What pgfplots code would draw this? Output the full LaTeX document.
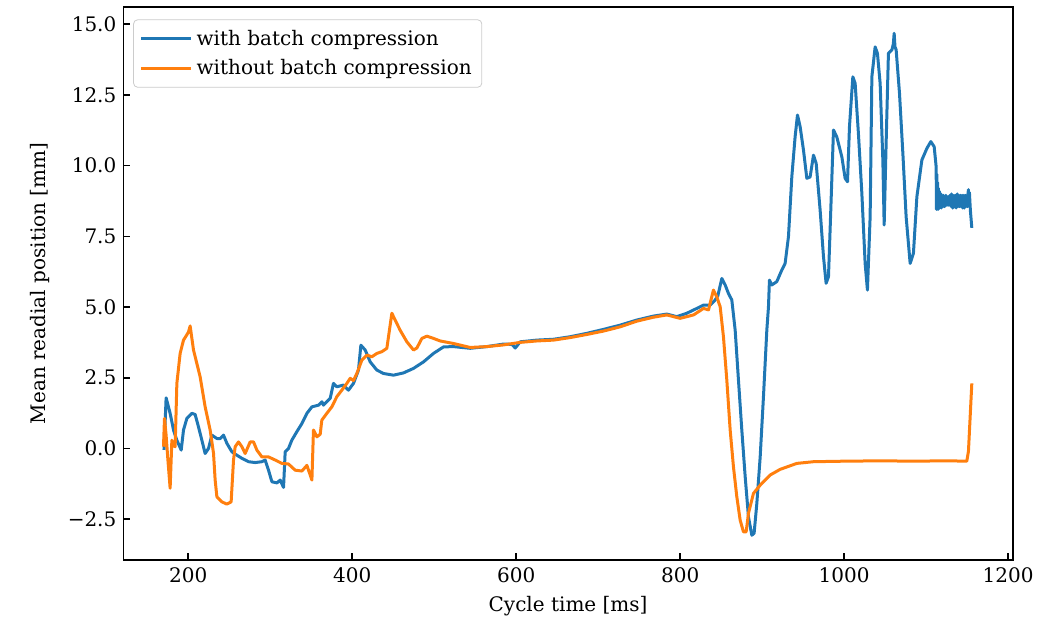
\documentclass[border=0pt]{standalone}
\usepackage{fontspec}
\setmainfont{DejaVu Serif}
\usepackage{pgfplots}
\pgfplotsset{compat=1.18}
\definecolor{mplblue}{HTML}{1F77B4}
\definecolor{mplorange}{HTML}{FF7F0E}
\pgfplotstableread{
x y
170.5 -0.05
172.0 1.00
173.1 1.79
178.0 1.24
182.1 0.65
186.2 0.29
191.5 -0.06
194.3 0.65
198.4 1.06
204.5 1.24
208.5 1.20
212.6 0.76
216.7 0.29
220.7 -0.18
224.8 0.00
228.9 0.47
235.0 0.35
239.1 0.35
243.1 0.47
247.2 0.18
253.3 -0.12
259.4 -0.24
265.5 -0.35
273.6 -0.47
281.7 -0.50
289.9 -0.47
293.9 -0.41
298.0 -0.77
302.1 -1.18
308.2 -1.22
312.2 -1.12
316.3 -1.38
318.3 -0.12
322.4 0.00
326.4 0.29
332.5 0.59
338.7 0.88
344.8 1.24
350.9 1.47
359.0 1.53
363.1 1.65
365.0 1.53
373.2 1.77
377.2 2.30
381.3 2.18
389.4 2.24
395.5 2.06
401.6 2.30
407.7 2.77
410.6 3.65
415.9 3.48
422.0 3.06
430.1 2.77
438.2 2.65
450.4 2.59
462.6 2.67
474.8 2.83
487.0 3.06
499.2 3.36
511.4 3.59
523.6 3.60
543.9 3.54
564.2 3.60
584.6 3.69
595.0 3.68
598.8 3.55
605.0 3.77
625.3 3.83
645.6 3.86
666.0 3.95
686.3 4.07
706.6 4.21
726.9 4.36
747.2 4.54
767.5 4.68
783.7 4.75
795.9 4.66
808.1 4.78
820.3 4.95
828.5 5.07
836.6 5.07
842.7 5.25
846.0 5.40
850.8 6.01
854.9 5.78
858.9 5.48
863.0 5.25
867.1 4.18
871.1 2.42
875.2 0.65
879.3 -1.00
883.3 -2.42
887.4 -3.07
890.2 -3.00
893.5 -1.95
897.6 -0.30
901.6 1.83
905.7 4.18
907.7 5.00
908.9 5.95
911.8 5.78
917.9 5.90
924.0 6.31
928.0 6.54
932.1 7.49
936.2 9.61
940.2 11.02
943.1 11.79
946.3 11.38
950.4 10.55
954.5 9.55
958.5 9.60
962.6 10.37
965.9 10.08
970.7 8.43
974.8 6.78
978.0 5.84
980.9 6.07
983.7 8.43
987.0 11.26
991.0 11.02
997.2 10.31
1001.2 9.55
1004.1 9.43
1006.5 11.38
1010.6 13.14
1013.4 12.91
1017.4 11.14
1021.6 9.02
1025.6 6.54
1028.4 5.60
1031.7 8.19
1033.8 13.14
1037.8 14.20
1040.6 13.97
1043.9 12.91
1047.2 10.20
1048.8 7.90
1051.2 10.79
1054.0 13.97
1058.2 14.09
1060.0 14.30
1061.0 14.68
1062.0 14.20
1063.4 14.10
1067.5 12.56
1071.6 10.44
1075.6 8.19
1080.5 6.54
1084.5 6.90
1088.7 8.90
1094.8 10.20
1100.9 10.61
1105.7 10.85
1109.8 10.67
1112.2 9.96
1112.6 8.45
1113.0 9.70
1113.5 8.50
1114.0 9.40
1114.5 8.45
1115.0 9.20
1115.5 8.55
1116.0 9.10
1116.5 8.50
1117.0 9.00
1117.5 8.55
1118.0 9.00
1118.5 8.50
1119.0 8.95
1119.5 8.55
1120.0 8.90
1120.5 8.55
1121.0 8.95
1121.5 8.60
1122.0 8.90
1122.5 8.55
1123.0 8.90
1123.5 8.60
1124.0 8.95
1124.5 8.60
1125.0 8.85
1125.5 8.60
1126.0 8.90
1126.5 8.65
1127.0 8.90
1127.5 8.60
1128.0 8.85
1128.5 8.65
1129.0 8.95
1129.5 8.60
1130.0 8.90
1130.5 8.55
1131.0 9.00
1131.5 8.60
1132.0 8.95
1132.5 8.50
1133.0 8.90
1133.5 8.60
1134.0 8.95
1134.5 8.55
1135.0 8.90
1135.5 8.60
1136.0 8.95
1136.5 8.50
1137.0 8.90
1137.5 8.55
1138.0 9.00
1138.5 8.55
1139.0 8.90
1139.5 8.60
1140.0 8.95
1140.5 8.55
1141.0 8.90
1141.5 8.60
1142.0 8.95
1142.5 8.55
1143.0 8.90
1143.5 8.60
1144.0 8.95
1144.5 8.50
1145.0 8.90
1145.5 8.55
1146.0 8.95
1146.5 8.50
1147.0 8.90
1147.5 8.60
1148.0 8.95
1148.5 8.55
1149.0 8.90
1149.5 8.60
1150.0 8.85
1150.5 8.55
1151.0 9.00
1151.6 9.15
1152.2 8.60
1152.8 9.05
1153.4 8.70
1154.0 8.40
1155.7 7.80
}\withbatch
\pgfplotstableread{
x y
169.9 0.06
171.1 1.06
173.0 0.50
175.0 -0.30
178.0 -1.41
180.1 0.29
182.0 0.10
184.1 0.06
186.2 2.30
190.2 3.36
194.3 3.83
198.0 4.00
200.4 4.12
202.4 4.33
206.5 3.48
210.6 3.00
214.6 2.53
220.7 1.47
226.8 0.65
230.9 -0.17
232.9 -1.12
235.0 -1.71
241.1 -1.89
247.2 -1.97
252.4 -1.89
255.3 -0.41
257.3 0.06
261.4 0.23
265.5 0.06
269.5 -0.18
275.6 0.23
279.7 0.23
283.8 -0.06
289.9 -0.30
297.9 -0.30
306.1 -0.41
314.3 -0.53
322.3 -0.55
330.5 -0.77
338.7 -0.80
344.8 -0.60
350.9 -1.12
352.8 0.65
357.0 0.41
361.0 0.50
363.0 1.00
369.1 1.24
375.2 1.47
381.3 1.83
387.4 2.06
393.5 2.30
397.6 2.48
401.6 2.40
405.7 2.65
411.8 3.12
417.9 3.30
424.0 3.24
430.1 3.36
436.2 3.42
442.3 3.54
444.3 3.95
448.4 4.78
452.4 4.54
458.5 4.18
466.7 3.77
474.8 3.48
478.9 3.55
485.0 3.89
491.1 3.97
499.2 3.89
507.3 3.80
523.6 3.71
543.9 3.57
564.2 3.60
584.6 3.66
605.0 3.75
625.3 3.80
645.6 3.83
666.0 3.92
686.3 4.03
706.6 4.15
726.9 4.30
747.2 4.50
767.5 4.64
783.7 4.72
800.0 4.60
816.3 4.72
828.5 4.95
834.6 4.90
840.6 5.60
844.7 5.36
848.8 5.01
852.8 3.95
856.9 2.42
861.0 0.65
865.0 -0.65
869.1 -1.71
873.2 -2.54
877.2 -2.95
880.5 -2.95
883.3 -2.30
889.4 -1.59
897.6 -1.30
909.8 -0.94
922.0 -0.74
942.3 -0.53
962.6 -0.47
1003.3 -0.45
1044.0 -0.44
1084.6 -0.45
1125.2 -0.44
1149.6 -0.45
1151.6 -0.10
1155.7 2.30
}\withoutbatch
\begin{document}
\begin{tikzpicture}
\useasboundingbox (-61.7pt,-31.5pt) rectangle (469.8pt,280.05pt);
\begin{axis}[
  at={(0pt,0pt)}, anchor=south west,
  scale only axis,
  width=444.7pt, height=276.7pt,
  xmin=121, xmax=1205.7,
  ymin=-3.95, ymax=15.62,
  xtick={200,400,600,800,1000,1200},
  xticklabels={200,400,600,800,1000,1200},
  ytick={-2.5,0,2.5,5,7.5,10,12.5,15},
  yticklabels={−2.5,0.0,2.5,5.0,7.5,10.0,12.5,15.0},
  tick pos=left,
  tick align=inside,
  major tick length=3.5pt,
  every tick/.style={black, line width=0.8pt},
  axis line style={line width=0.8pt},
  xlabel={Cycle time [ms]},
  ylabel={Mean readial position [mm]},
  ylabel style={yshift=2pt},
  legend cell align=left,
  legend style={at={(0.011,0.977)}, anchor=north west,
    draw=black!20, rounded corners=2pt, fill=white, fill opacity=0.8, text opacity=1,
    row sep=1.5pt, inner sep=3pt},
  legend image code/.code={\draw[#1, line width=1.5pt] (0pt,0pt) -- (20pt,0pt); \path (0pt,0pt) -- (25pt,0pt);},
]
\addplot[mplblue, line width=1.5pt, line join=round] table {\withbatch};
\addlegendentry{with batch compression}
\addplot[mplorange, line width=1.5pt, line join=round] table {\withoutbatch};
\addlegendentry{without batch compression}
\end{axis}
\end{tikzpicture}
\end{document}
